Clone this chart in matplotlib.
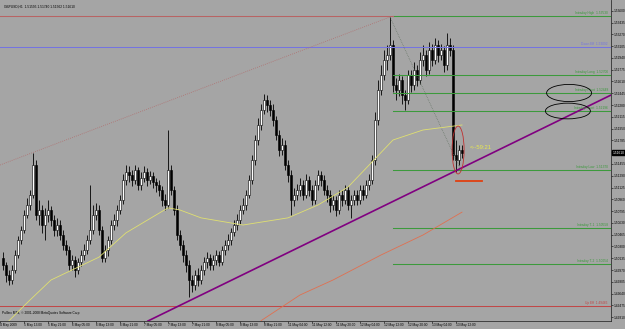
import numpy as np
import matplotlib
matplotlib.use("Agg")
import matplotlib.pyplot as plt
from matplotlib.patches import Ellipse

plt.rcParams["font.family"] = ["Liberation Sans", "DejaVu Sans"]

# GBPUSD H1 bars
opens = [1.5014, 1.5004, 1.4990, 1.4983, 1.4997, 1.5018, 1.5039, 1.5053, 1.5074, 1.5088,
         1.5102, 1.5144, 1.5074, 1.5081, 1.5060, 1.5074, 1.5081, 1.5067, 1.5053, 1.5060,
         1.5046, 1.5032, 1.5025, 1.5004, 1.5011, 1.4997, 1.5008, 1.5018, 1.5025, 1.5039,
         1.5053, 1.5074, 1.5081, 1.5053, 1.5014, 1.5025, 1.5039, 1.5060, 1.5067, 1.5081,
         1.5095, 1.5123, 1.5134, 1.5130, 1.5123, 1.5137, 1.5116, 1.5126, 1.5134, 1.5123,
         1.5129, 1.5120, 1.5116, 1.5109, 1.5095, 1.5088, 1.5137, 1.5109, 1.5081, 1.5046,
         1.5032, 1.5018, 1.5004, 1.4983, 1.4976, 1.4990, 1.4983, 1.4997, 1.5008, 1.5014,
         1.5004, 1.5011, 1.5018, 1.5008, 1.5025, 1.5032, 1.5039, 1.5050, 1.5060, 1.5067,
         1.5081, 1.5088, 1.5102, 1.5123, 1.5151, 1.5179, 1.5200, 1.5221, 1.5235, 1.5228,
         1.5221, 1.5207, 1.5186, 1.5165, 1.5172, 1.5144, 1.5130, 1.5095, 1.5102, 1.5109,
         1.5116, 1.5102, 1.5123, 1.5109, 1.5095, 1.5116, 1.5130, 1.5123, 1.5109, 1.5102,
         1.5088, 1.5095, 1.5081, 1.5102, 1.5095, 1.5109, 1.5088, 1.5095, 1.5102, 1.5095,
         1.5109, 1.5102, 1.5116, 1.5123, 1.5151, 1.5207, 1.5249, 1.5270, 1.5291, 1.5298,
         1.5312, 1.5256, 1.5249, 1.5263, 1.5242, 1.5235, 1.5270, 1.5256, 1.5277, 1.5263,
         1.5291, 1.5298, 1.5277, 1.5305, 1.5291, 1.5312, 1.5298, 1.5305, 1.5284, 1.5312,
         1.5305, 1.5158, 1.5151, 1.5165]
highs = [1.5022, 1.5008, 1.4997, 1.5004, 1.5025, 1.5045, 1.5059, 1.5081, 1.5098, 1.5109,
         1.5161, 1.5151, 1.5095, 1.5088, 1.5084, 1.5095, 1.5087, 1.5074, 1.5070, 1.5067,
         1.5053, 1.5039, 1.5031, 1.5018, 1.5017, 1.5014, 1.5025, 1.5033, 1.5046, 1.5116,
         1.5088, 1.5091, 1.5088, 1.5059, 1.5032, 1.5045, 1.5067, 1.5075, 1.5088, 1.5102,
         1.5131, 1.5144, 1.5143, 1.5137, 1.5144, 1.5141, 1.5134, 1.5143, 1.5140, 1.5136,
         1.5134, 1.5126, 1.5123, 1.5115, 1.5103, 1.5193, 1.5144, 1.5115, 1.5088, 1.5053,
         1.5039, 1.5025, 1.5011, 1.4990, 1.4997, 1.5000, 1.5004, 1.5015, 1.5022, 1.5019,
         1.5018, 1.5025, 1.5024, 1.5031, 1.5039, 1.5048, 1.5056, 1.5067, 1.5075, 1.5088,
         1.5098, 1.5109, 1.5130, 1.5158, 1.5186, 1.5210, 1.5229, 1.5243, 1.5242, 1.5235,
         1.5229, 1.5213, 1.5193, 1.5182, 1.5179, 1.5151, 1.5137, 1.5112, 1.5117, 1.5126,
         1.5123, 1.5131, 1.5129, 1.5116, 1.5123, 1.5137, 1.5136, 1.5130, 1.5116, 1.5109,
         1.5102, 1.5101, 1.5109, 1.5109, 1.5116, 1.5115, 1.5102, 1.5109, 1.5109, 1.5116,
         1.5116, 1.5123, 1.5131, 1.5158, 1.5218, 1.5263, 1.5284, 1.5305, 1.5312, 1.5351,
         1.5319, 1.5266, 1.5271, 1.5269, 1.5249, 1.5277, 1.5277, 1.5288, 1.5284, 1.5302,
         1.5312, 1.5305, 1.5316, 1.5313, 1.5322, 1.5319, 1.5313, 1.5311, 1.5329, 1.5322,
         1.5312, 1.5179, 1.5172, 1.5172]
lows = [1.4997, 1.4980, 1.4976, 1.4977, 1.4993, 1.5014, 1.5033, 1.5049, 1.5070, 1.5081,
        1.5098, 1.5067, 1.5060, 1.5049, 1.5039, 1.5064, 1.5059, 1.5045, 1.5045, 1.5039,
        1.5025, 1.5018, 1.4997, 1.4997, 1.4987, 1.4991, 1.5003, 1.5011, 1.5019, 1.5033,
        1.5048, 1.5067, 1.5046, 1.5008, 1.5008, 1.5017, 1.5033, 1.5053, 1.5059, 1.5075,
        1.5090, 1.5116, 1.5120, 1.5115, 1.5117, 1.5109, 1.5109, 1.5120, 1.5115, 1.5117,
        1.5112, 1.5106, 1.5101, 1.5087, 1.5081, 1.5084, 1.5102, 1.5074, 1.5039, 1.5025,
        1.5008, 1.4994, 1.4959, 1.4966, 1.4969, 1.4975, 1.4977, 1.4990, 1.5000, 1.4997,
        1.4997, 1.5004, 1.5003, 1.5004, 1.5018, 1.5025, 1.5032, 1.5045, 1.5053, 1.5061,
        1.5075, 1.5081, 1.5098, 1.5117, 1.5144, 1.5172, 1.5193, 1.5215, 1.5218, 1.5213,
        1.5199, 1.5179, 1.5157, 1.5158, 1.5137, 1.5120, 1.5074, 1.5087, 1.5095, 1.5101,
        1.5095, 1.5098, 1.5101, 1.5088, 1.5090, 1.5109, 1.5115, 1.5102, 1.5092, 1.5078,
        1.5081, 1.5073, 1.5075, 1.5087, 1.5090, 1.5081, 1.5070, 1.5088, 1.5088, 1.5090,
        1.5095, 1.5098, 1.5109, 1.5117, 1.5144, 1.5200, 1.5242, 1.5263, 1.5277, 1.5291,
        1.5246, 1.5235, 1.5241, 1.5229, 1.5221, 1.5229, 1.5246, 1.5249, 1.5255, 1.5257,
        1.5283, 1.5269, 1.5271, 1.5283, 1.5285, 1.5288, 1.5291, 1.5274, 1.5277, 1.5297,
        1.5151, 1.5134, 1.5144, 1.5154]
closes = [1.5004, 1.4990, 1.4983, 1.4997, 1.5018, 1.5039, 1.5053, 1.5074, 1.5088, 1.5102,
          1.5144, 1.5074, 1.5081, 1.5060, 1.5074, 1.5081, 1.5067, 1.5053, 1.5060, 1.5046,
          1.5032, 1.5025, 1.5004, 1.5011, 1.4997, 1.5008, 1.5018, 1.5025, 1.5039, 1.5053,
          1.5074, 1.5081, 1.5053, 1.5014, 1.5025, 1.5039, 1.5060, 1.5067, 1.5081, 1.5095,
          1.5123, 1.5134, 1.5130, 1.5123, 1.5137, 1.5116, 1.5126, 1.5134, 1.5123, 1.5129,
          1.5120, 1.5116, 1.5109, 1.5095, 1.5088, 1.5137, 1.5109, 1.5081, 1.5046, 1.5032,
          1.5018, 1.5004, 1.4983, 1.4976, 1.4990, 1.4983, 1.4997, 1.5008, 1.5014, 1.5004,
          1.5011, 1.5018, 1.5008, 1.5025, 1.5032, 1.5039, 1.5050, 1.5060, 1.5067, 1.5081,
          1.5088, 1.5102, 1.5123, 1.5151, 1.5179, 1.5200, 1.5221, 1.5235, 1.5228, 1.5221,
          1.5207, 1.5186, 1.5165, 1.5172, 1.5144, 1.5130, 1.5095, 1.5102, 1.5109, 1.5116,
          1.5102, 1.5123, 1.5109, 1.5095, 1.5116, 1.5130, 1.5123, 1.5109, 1.5102, 1.5088,
          1.5095, 1.5081, 1.5102, 1.5095, 1.5109, 1.5088, 1.5095, 1.5102, 1.5095, 1.5109,
          1.5102, 1.5116, 1.5123, 1.5151, 1.5207, 1.5249, 1.5270, 1.5291, 1.5298, 1.5312,
          1.5256, 1.5249, 1.5263, 1.5242, 1.5235, 1.5270, 1.5256, 1.5277, 1.5263, 1.5291,
          1.5298, 1.5277, 1.5305, 1.5291, 1.5312, 1.5298, 1.5305, 1.5284, 1.5312, 1.5305,
          1.5158, 1.5151, 1.5165, 1.5161]

x_labels = ["4 May 2009", "5 May 13:00", "5 May 21:00", "6 May 05:00", "6 May 13:00",
            "6 May 21:00", "7 May 05:00", "7 May 13:00", "7 May 21:00", "8 May 05:00",
            "8 May 13:00", "8 May 21:00", "11 May 04:00", "11 May 12:00", "11 May 20:00",
            "12 May 04:00", "12 May 12:00", "12 May 20:00", "13 May 04:00", "13 May 12:00"]
x_label_bars = [-1 + 8 * k for k in range(len(x_labels))]

price_ticks = [1.53600 - 0.00165 * k for k in range(27)]

# horizontal levels
level_names = ["Intraday High", "Down Eff", "Intraday Long", "Intraday Pivot", "Intraday Short",
               "Intraday Low", "Intraday T-1", "Intraday T-2", "Up Eff"]
level_prices = [1.53530, 1.53092, 1.52700, 1.52448, 1.52196, 1.51370, 1.50558, 1.50054, 1.49466]
level_colors = ["#3c9a3c", "#7474e0", "#3c9a3c", "#3c9a3c", "#3c9a3c", "#3c9a3c", "#3c9a3c",
                "#3c9a3c", "#c04848"]
level_start = [130, -1, 130, 130, 130, 130, 130, 130, -1]

# moving averages sampled at a few bars
ma_fast_bars = [2, 9, 16, 32, 41, 55, 59, 66, 80, 95, 105, 115, 130, 140, 153]
ma_fast = [1.4926, 1.4955, 1.4983, 1.5015, 1.5049, 1.5084, 1.5081, 1.5070, 1.5060, 1.5070,
           1.5088, 1.5113, 1.5179, 1.5193, 1.5200]
ma_slow_bars = [86, 99, 110, 126, 140, 153]
ma_slow = [1.4926, 1.4962, 1.4983, 1.5018, 1.5046, 1.5078]

bg = "#a5a5a5"
fs = 2.3
fig = plt.figure(figsize=(6.25, 3.29), dpi=100)
fig.patch.set_facecolor(bg)
ax = fig.add_axes([0, 8 / 329, 611 / 625, 321 / 329])
ax.set_facecolor(bg)

o = np.array(opens); c = np.array(closes); h = np.array(highs); l = np.array(lows)
idx = np.arange(len(c))
up = c >= o
ax.vlines(idx, l, h, color="black", lw=0.6, zorder=2)
ax.bar(idx[up], np.maximum(c - o, 0.00003)[up], bottom=o[up], width=0.67,
       color="white", edgecolor="black", lw=0.4, zorder=3)
ax.bar(idx[~up], (o - c)[~up], bottom=c[~up], width=0.67,
       color="black", edgecolor="black", lw=0.4, zorder=3)

for name, p, col, s in zip(level_names, level_prices, level_colors, level_start):
    ax.plot([s, 203], [p, p], color=col, lw=0.75, snap=True, zorder=4)
    ax.text(201.6, p + 0.00008, "%s  %.5f" % (name, p), color=col, fontsize=fs,
            ha="right", va="bottom", zorder=6)
ax.plot([-1, 130], [level_prices[0]] * 2, color="#b86464", lw=0.75, snap=True, zorder=4)

ax.plot(ma_fast_bars, ma_fast, color="#e0e070", lw=0.6, zorder=5)
ax.plot(ma_slow_bars, ma_slow, color="#e07050", lw=0.6, zorder=5)

# trend lines
ax.plot([-1, 129], [1.5144, 1.53512], color="#b07070", lw=0.6, ls=(0, (1, 1.5)), zorder=4)
ax.plot([129, 152.3], [1.53512, 1.51398], color="#607060", lw=0.5, ls=(0, (1, 1.5)), zorder=4)
ax.plot([48.3, 203], [1.49256, 1.52426], color="#800080", lw=1.2, zorder=5)

ax.add_patch(Ellipse((151.7, 1.5165), 4, 0.0067, fill=False, ec="#c03030", lw=0.6, zorder=6))
ax.add_patch(Ellipse((188.7, 1.52448), 15, 0.0024, fill=False, ec="black", lw=0.6, zorder=6))
ax.add_patch(Ellipse((188.3, 1.52196), 15, 0.0022, fill=False, ec="black", lw=0.6, zorder=6))
ax.plot([151, 159.7], [1.51216, 1.51216], color="#e04010", lw=1.3, zorder=6)
ax.text(155.7, 1.5168, "<--59:21", color="#e8e850", fontsize=4.2, va="center", zorder=6)

ax.text(0.006, 0.985, "GBPUSD,H1  1.51595 1.51740 1.51562 1.51610", transform=ax.transAxes,
        fontsize=fs, va="top", ha="left")
ax.text(0.004, 0.02, "Pulfinx MT4, \u00a9 2001-2008 MetaQuotes Software Corp.",
        transform=ax.transAxes, fontsize=fs, va="bottom", ha="left")

ax.set_xlim(-1, 202.67)
ax.set_ylim(1.49256, 1.5375)
ax.yaxis.tick_right()
ax.set_yticks(price_ticks)
# the tick under the price box is hidden by it
ax.set_yticklabels(["" if abs(p - closes[-1]) < 0.0007 else "%.5f" % p for p in price_ticks])
ax.set_xticks(x_label_bars)
ax.set_xticklabels(x_labels)
for lab in ax.get_xticklabels():
    lab.set_horizontalalignment("left")
ax.tick_params(axis="both", labelsize=fs, length=1.2, width=0.4, pad=0.4, colors="black")
for side in ["top", "left"]:
    ax.spines[side].set_visible(False)
for side in ["right", "bottom"]:
    ax.spines[side].set_color("#303030")
    ax.spines[side].set_linewidth(0.6)

ax.text(1.0025, closes[-1], "%.5f" % closes[-1], transform=ax.get_yaxis_transform(),
        fontsize=fs, color="white", va="center", ha="left",
        bbox=dict(facecolor="black", edgecolor="black", pad=0.3), zorder=7)

fig.savefig("out.png", dpi=100, facecolor=bg)
